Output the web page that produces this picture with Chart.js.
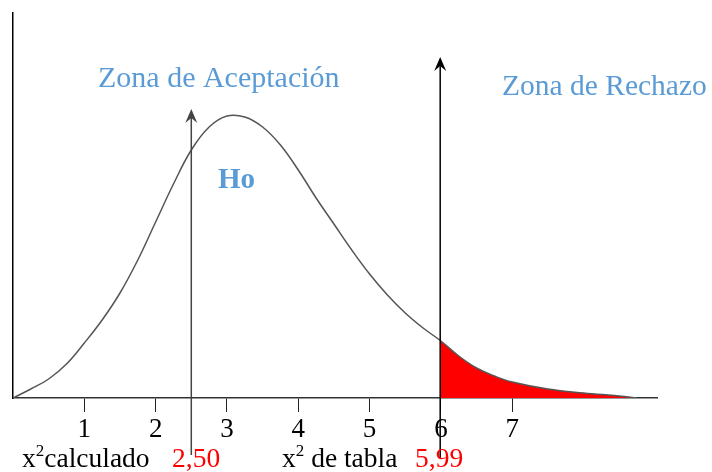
<!DOCTYPE html>
<html>
<head>
<meta charset="utf-8">
<script src="https://cdn.jsdelivr.net/npm/chart.js@4/dist/chart.umd.min.js"></script>
<style>
  html, body { margin: 0; padding: 0; background: #fff; }
  #wrap { width: 712px; height: 472px; }
</style>
</head>
<body>
<div id="wrap"><canvas id="chi-chart" width="712" height="472"></canvas></div>
<script>
// Curva chi cuadrado
var curveX = [0, 0.25, 0.5, 0.75, 1, 1.25, 1.5, 1.75, 2, 2.25, 2.5, 2.75, 3, 3.25, 3.5, 3.75, 4, 4.25, 4.5, 4.75, 5, 5.25, 5.5, 5.75, 6, 6.25, 6.5, 6.75, 7, 7.5, 8, 8.5, 8.75];
var curveY = [0, 9, 19, 34, 55, 78, 105, 138, 176, 214, 248, 271, 282, 281, 271, 253, 228, 200, 174, 148, 124, 103, 85, 70, 57, 42, 30, 22, 16, 9, 5, 2, 0];
var tickValues = [1, 2, 3, 4, 5, 6, 7];

var chiCalculado = 2.50;
var chiTabla = 5.99;
var tablaCurveY = 58;

var fmt = function (v) { return v.toFixed(2).replace('.', ','); };

var curvePoints = curveX.map(function (x, i) { return { x: x, y: curveY[i] }; });
var tailPoints = [{ x: chiTabla, y: tablaCurveY }].concat(curvePoints.filter(function (p) { return p.x > chiTabla; }));

var serif = "'Liberation Serif', 'Times New Roman', serif";
var blue = '#5b9bd5';

function drawArrow(ctx, x, yBottom, yTop, color) {
  ctx.save();
  ctx.strokeStyle = color;
  ctx.fillStyle = color;
  ctx.lineWidth = 1.5;
  ctx.beginPath();
  ctx.moveTo(x, yBottom);
  ctx.lineTo(x, yTop + 8);
  ctx.stroke();
  ctx.beginPath();
  ctx.moveTo(x, yTop);
  ctx.lineTo(x + 6, yTop + 14);
  ctx.lineTo(x, yTop + 9);
  ctx.lineTo(x - 6, yTop + 14);
  ctx.closePath();
  ctx.fill();
  ctx.restore();
}

function drawChi(ctx, x, y, rest) {
  ctx.font = '27.5px ' + serif;
  ctx.fillText('x', x, y);
  var w = ctx.measureText('x').width;
  ctx.font = '17px ' + serif;
  ctx.fillText('2', x + w, y - 11);
  var w2 = ctx.measureText('2').width;
  ctx.font = '27.5px ' + serif;
  ctx.fillText(rest, x + w + w2, y);
}

var annotations = {
  id: 'annotations',
  afterDatasetsDraw: function (chart) {
    var ctx = chart.ctx;
    var xs = chart.scales.x, ys = chart.scales.y;

    drawArrow(ctx, xs.getPixelForValue(chiCalculado), ys.getPixelForValue(-57), ys.getPixelForValue(289), '#444');
    drawArrow(ctx, xs.getPixelForValue(chiTabla), ys.getPixelForValue(-60), ys.getPixelForValue(341), '#000');

    ctx.save();
    ctx.textBaseline = 'alphabetic';
    ctx.textAlign = 'left';
    ctx.fillStyle = blue;
    ctx.font = '30px ' + serif;
    ctx.fillText('Zona de Aceptación', 98, 87);
    ctx.font = '29.5px ' + serif;
    ctx.fillText('Zona de Rechazo', 502, 95);
    ctx.font = 'bold 29px ' + serif;
    ctx.fillText('Ho', 218, 188);

    ctx.fillStyle = '#000';
    drawChi(ctx, 22, 467, 'calculado');
    ctx.fillStyle = '#ff0000';
    ctx.font = '27.5px ' + serif;
    ctx.fillText(fmt(chiCalculado), 172, 467);

    ctx.fillStyle = '#000';
    drawChi(ctx, 282, 467, ' de tabla');
    ctx.fillStyle = '#ff0000';
    ctx.font = '27.5px ' + serif;
    ctx.fillText(fmt(chiTabla), 415, 467);
    ctx.restore();
  }
};

var ctx = document.getElementById('chi-chart').getContext('2d');

new Chart(ctx, {
  type: 'line',
  data: {
    datasets: [{
      label: 'Chi cuadrado',
      data: curvePoints,
      borderColor: '#555',
      borderWidth: 1.5,
      pointRadius: 0,
      fill: false,
      tension: 0.4,
      order: 0
    }, {
      label: 'Zona de Rechazo',
      data: tailPoints,
      borderWidth: 0,
      borderColor: 'rgba(0,0,0,0)',
      backgroundColor: '#ff0000',
      pointRadius: 0,
      fill: 'origin',
      tension: 0.4,
      order: 1
    }]
  },
  options: {
    responsive: false,
    animation: false,
    layout: { padding: { top: 13, right: 55, left: 0, bottom: 0 } },
    plugins: {
      legend: { display: false },
      tooltip: { enabled: false }
    },
    scales: {
      x: {
        type: 'linear',
        min: 0,
        max: 9.03,
        afterBuildTicks: function (scale) {
          scale.ticks = tickValues.map(function (v) { return { value: v }; });
        },
        afterFit: function (scale) { scale.height = 74; },
        grid: {
          drawOnChartArea: false,
          drawTicks: true,
          tickLength: 14,
          color: '#222',
          lineWidth: 1
        },
        border: { display: true, color: '#333', width: 1.5 },
        ticks: {
          padding: 2,
          maxRotation: 0,
          color: '#000',
          font: { family: serif, size: 27 }
        }
      },
      y: {
        min: 0,
        max: 385,
        afterFit: function (scale) { scale.width = 13; },
        grid: { display: false },
        border: { display: true, color: '#000', width: 1.5 },
        ticks: { display: false }
      }
    }
  },
  plugins: [annotations]
});
</script>
</body>
</html>
